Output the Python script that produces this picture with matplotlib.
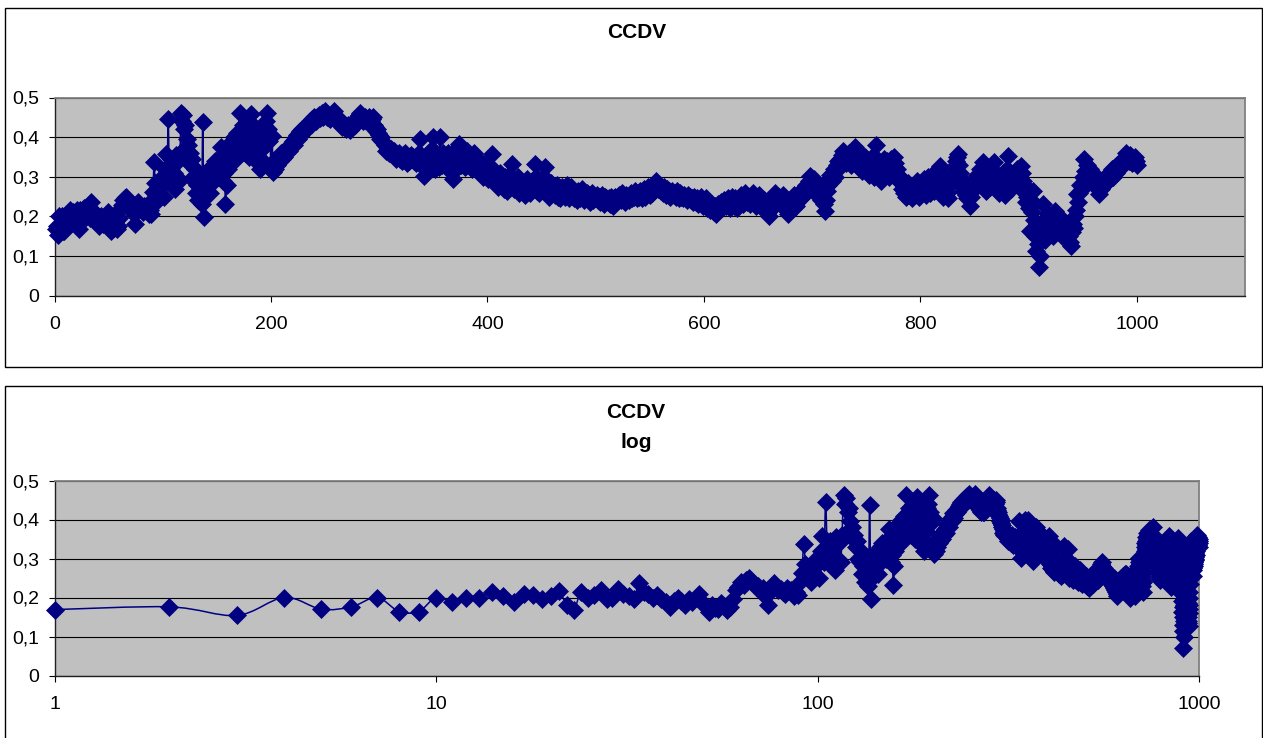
import numpy as np
import matplotlib
matplotlib.use("Agg")
import matplotlib.pyplot as plt
from matplotlib.path import Path
from matplotlib.patches import PathPatch, Rectangle

plt.rcParams['font.family'] = ['Liberation Sans', 'DejaVu Sans']

# ---------------- data (CCDV values, in thousandths, step 1..1000) ----------------
ccdv_001_100 = [
    169, 176, 154, 200, 170, 176, 200, 164, 164, 200,
    189, 200, 200, 215, 203, 189, 210, 206, 197, 203,
    217, 180, 169, 215, 200, 206, 220, 195, 200, 223,
    210, 205, 195, 236, 215, 208, 200, 206, 195, 188,
    176, 190, 200, 192, 180, 195, 188, 200, 210, 185,
    175, 163, 180, 172, 170, 185, 178, 167, 175, 195,
    220, 228, 240, 232, 245, 250, 242, 235, 228, 230,
    218, 225, 205, 180, 215, 225, 236, 228, 220, 223,
    215, 210, 225, 218, 220, 212, 205, 215, 206, 240,
    262, 336, 285, 265, 270, 240, 258, 275, 300, 290]
ccdv_101_200 = [
    250, 320, 358, 290, 445, 330, 300, 345, 280, 310,
    270, 355, 300, 340, 290, 360, 462, 440, 455, 420,
    430, 395, 380, 350, 360, 330, 345, 300, 290, 320,
    260, 280, 240, 300, 255, 230, 437, 197, 250, 270,
    300, 280, 320, 260, 310, 330, 290, 340, 310, 335,
    300, 320, 350, 376, 330, 290, 310, 231, 280, 320,
    350, 340, 370, 390, 360, 400, 380, 345, 410, 395,
    462, 400, 370, 430, 390, 360, 420, 440, 380, 350,
    410, 458, 430, 390, 360, 340, 380, 400, 350, 319,
    340, 370, 410, 430, 440, 462, 420, 390, 400, 330]
ccdv_201_300 = [
    403, 311, 340, 320, 345, 330, 350, 340, 360, 345,
    357, 350, 365, 360, 370, 375, 365, 380, 385, 390,
    380, 395, 400, 405, 395, 410, 416, 405, 420, 415,
    425, 420, 430, 425, 435, 440, 430, 445, 440, 450,
    445, 440, 450, 455, 448, 452, 460, 450, 455, 466,
    458, 450, 455, 448, 445, 452, 460, 466, 455, 445,
    450, 440, 435, 440, 430, 425, 435, 430, 420, 425,
    430, 420, 418, 425, 430, 435, 440, 430, 445, 450,
    455, 462, 450, 445, 440, 448, 450, 440, 445, 438,
    450, 440, 445, 450, 430, 425, 415, 420, 410, 405]
ccdv_301_400 = [
    395, 400, 390, 385, 380, 365, 375, 370, 360, 365,
    370, 360, 355, 365, 350, 345, 355, 360, 345, 350,
    340, 355, 350, 360, 345, 335, 350, 340, 355, 345,
    350, 340, 345, 335, 350, 340, 360, 395, 340, 330,
    302, 320, 335, 350, 330, 340, 355, 345, 370, 400,
    340, 320, 335, 350, 325, 400, 345, 330, 360, 340,
    330, 350, 340, 360, 345, 320, 310, 294, 330, 355,
    370, 345, 365, 382, 350, 330, 360, 340, 325, 350,
    365, 340, 330, 355, 345, 320, 340, 360, 335, 330,
    345, 320, 335, 310, 325, 300, 315, 330, 305, 320]
ccdv_401_500 = [
    295, 310, 300, 357, 320, 290, 305, 285, 300, 275,
    290, 310, 280, 295, 270, 300, 285, 265, 290, 305,
    280, 300, 332, 290, 270, 285, 275, 300, 260, 280,
    290, 265, 275, 285, 255, 270, 295, 280, 260, 275,
    290, 270, 285, 332, 300, 265, 275, 260, 280, 290,
    270, 300, 324, 285, 260, 275, 250, 270, 285, 260,
    275, 255, 265, 280, 250, 270, 245, 260, 275, 255,
    265, 250, 270, 280, 245, 260, 275, 255, 265, 245,
    260, 250, 240, 265, 255, 245, 270, 250, 240, 255,
    250, 260, 245, 255, 235, 250, 260, 240, 250, 245]
ccdv_501_600 = [
    255, 240, 250, 235, 245, 255, 240, 230, 250, 245,
    235, 245, 230, 250, 240, 225, 245, 250, 235, 240,
    250, 255, 240, 260, 245, 250, 235, 255, 245, 250,
    240, 255, 260, 245, 250, 265, 255, 245, 260, 250,
    265, 255, 245, 260, 270, 250, 260, 275, 265, 255,
    270, 260, 280, 275, 285, 290, 280, 270, 275, 265,
    270, 260, 275, 265, 255, 270, 260, 265, 250, 260,
    265, 255, 260, 250, 265, 255, 245, 260, 250, 255,
    245, 255, 250, 240, 255, 245, 250, 240, 245, 235,
    250, 240, 235, 245, 230, 240, 250, 235, 225, 240]
ccdv_601_700 = [
    230, 245, 220, 235, 225, 215, 230, 220, 210, 225,
    205, 220, 230, 215, 225, 235, 220, 230, 240, 225,
    235, 245, 230, 220, 240, 250, 235, 225, 245, 230,
    220, 235, 245, 255, 240, 230, 250, 260, 245, 235,
    250, 240, 230, 245, 260, 250, 235, 225, 240, 250,
    255, 245, 235, 220, 230, 240, 215, 225, 210, 200,
    215, 230, 245, 235, 250, 260, 245, 235, 250, 240,
    230, 245, 255, 240, 225, 215, 235, 205, 220, 240,
    230, 245, 255, 240, 225, 235, 250, 240, 255, 265,
    250, 270, 260, 280, 275, 265, 290, 302, 285, 270]
ccdv_701_800 = [
    280, 295, 285, 270, 260, 250, 265, 240, 255, 245,
    230, 214, 240, 265, 280, 295, 305, 290, 310, 320,
    300, 315, 330, 340, 325, 345, 335, 355, 365, 345,
    335, 350, 340, 360, 345, 330, 355, 350, 340, 374,
    355, 340, 325, 360, 335, 315, 345, 330, 350, 320,
    340, 325, 305, 335, 350, 320, 300, 330, 380, 345,
    320, 335, 305, 290, 325, 345, 330, 310, 340, 325,
    300, 335, 345, 320, 310, 350, 335, 320, 305, 290,
    300, 285, 270, 290, 260, 275, 250, 265, 285, 255,
    270, 245, 260, 280, 255, 275, 290, 265, 250, 280]
ccdv_801_900 = [
    265, 280, 295, 270, 255, 285, 300, 275, 260, 290,
    305, 280, 265, 295, 310, 285, 300, 328, 290, 270,
    250, 275, 300, 285, 260, 245, 280, 305, 290, 310,
    325, 300, 340, 350, 357, 330, 310, 280, 265, 290,
    275, 255, 245, 270, 260, 227, 250, 275, 290, 270,
    285, 305, 280, 300, 320, 295, 310, 336, 300, 280,
    265, 290, 310, 275, 295, 320, 305, 336, 290, 270,
    285, 300, 260, 275, 295, 310, 280, 255, 300, 320,
    353, 310, 290, 270, 300, 285, 310, 295, 320, 305,
    315, 300, 328, 310, 290, 280, 260, 235, 250, 220]
ccdv_901_1000 = [
    164, 240, 210, 265, 190, 150, 113, 175, 130, 71,
    100, 160, 231, 180, 140, 195, 170, 205, 185, 160,
    200, 175, 150, 214, 190, 165, 200, 180, 160, 195,
    175, 150, 185, 160, 140, 170, 150, 135, 126, 160,
    180, 170, 200, 215, 256, 235, 260, 280, 270, 300,
    345, 315, 300, 330, 310, 295, 320, 300, 285, 305,
    290, 275, 300, 280, 256, 285, 270, 290, 280, 295,
    285, 300, 290, 310, 295, 305, 320, 300, 315, 325,
    310, 330, 320, 335, 325, 340, 330, 345, 335, 361,
    345, 350, 340, 355, 345, 335, 345, 350, 340, 330]

title_top = "CCDV"
title_bottom = "CCDV\nlog"
top_xticks = [0, 200, 400, 600, 800, 1000]
bottom_xticks = [1, 10, 100, 1000]
bottom_xlabels = ["1", "10", "100", "1000"]
yticks = [0, 0.1, 0.2, 0.3, 0.4, 0.5]
ytick_labels = ["0", "0,1", "0,2", "0,3", "0,4", "0,5"]

ccdv = np.array(ccdv_001_100 + ccdv_101_200 + ccdv_201_300 + ccdv_301_400 +
                ccdv_401_500 + ccdv_501_600 + ccdv_601_700 + ccdv_701_800 +
                ccdv_801_900 + ccdv_901_1000, dtype=float) / 1000.0
step = np.arange(1, len(ccdv) + 1)

NAVY = '#000080'
W, H = 1263, 738
fig = plt.figure(figsize=(W / 100, H / 100), dpi=100)


def fx(px):
    return px / W


def fy(py):
    return 1 - py / H


def frame(x0, y0, x1, y1):
    fig.patches.append(Rectangle((fx(x0), fy(y1)), (x1 - x0) / W, (y1 - y0) / H,
                                 transform=fig.transFigure, fill=False,
                                 ec='black', lw=1.0))


def smooth_path(x, y, log=False):
    u = np.log10(x) if log else np.asarray(x, float)
    P = np.column_stack([u, y])
    Pm = np.vstack([P[0], P[:-1]])
    Pp = np.vstack([P[1:], P[-1]])
    tang = (Pp - Pm) / 6.0
    verts = [P[0]]
    codes = [Path.MOVETO]
    for i in range(len(P) - 1):
        verts += [P[i] + tang[i], P[i + 1] - tang[i + 1], P[i + 1]]
        codes += [Path.CURVE4] * 3
    V = np.array(verts)
    if log:
        V[:, 0] = 10 ** V[:, 0]
    return Path(V, codes)


def style(ax, log=False):
    ax.set_facecolor('#C0C0C0')
    ax.set_ylim(0, 0.5)
    ax.set_yticks(yticks)
    ax.set_yticklabels(ytick_labels)
    ax.yaxis.grid(True, color='black', lw=0.8)
    ax.set_axisbelow(True)
    for s in ['top', 'right']:
        ax.spines[s].set_color('#808080')
        ax.spines[s].set_linewidth(1.3)
    for s in ['left', 'bottom']:
        ax.spines[s].set_color('#202020')
        ax.spines[s].set_linewidth(1.0)
    ax.tick_params(axis='y', direction='out', length=4, width=0.8, pad=7,
                   labelsize=14)
    ax.tick_params(axis='x', direction='out', length=4, width=0.8, pad=11,
                   labelsize=14)
    ax.tick_params(axis='x', which='minor', length=0)
    lp = smooth_path(step, ccdv, log=log)
    ax.add_patch(PathPatch(lp, fill=False, ec=NAVY, lw=1.1, zorder=2))
    ax.plot(step, ccdv, ls='none', marker='D', ms=9.0, mfc=NAVY, mec=NAVY,
            mew=0.5, clip_on=False, zorder=3)


# frames
frame(4.5, 7.5, 1261.5, 367)
frame(4.5, 385.5, 1261.5, 760)

# top chart
ax1 = fig.add_axes([fx(54.5), fy(295.5), (1245 - 54.5) / W, (295.5 - 97.5) / H])
style(ax1)
ax1.set_xlim(0, 1100)
ax1.set_xticks(top_xticks)
ax1.set_xticklabels([str(t) for t in top_xticks])
fig.text(fx(637), fy(33), title_top, ha='center', va='center',
         fontsize=15, fontweight='bold')

# bottom chart (log x)
ax2 = fig.add_axes([fx(54.5), fy(675.5), (1199 - 54.5) / W, (675.5 - 480.5) / H])
ax2.set_xscale('log')
style(ax2, log=True)
ax2.set_xlim(1, 1000)
ax2.set_xticks(bottom_xticks)
ax2.set_xticklabels(bottom_xlabels)
ax2.xaxis.set_minor_locator(matplotlib.ticker.NullLocator())
fig.text(fx(636), fy(427.5), title_bottom, ha='center', va='center',
         fontsize=15, fontweight='bold', linespacing=1.75)

fig.savefig('out.png', dpi=100)
